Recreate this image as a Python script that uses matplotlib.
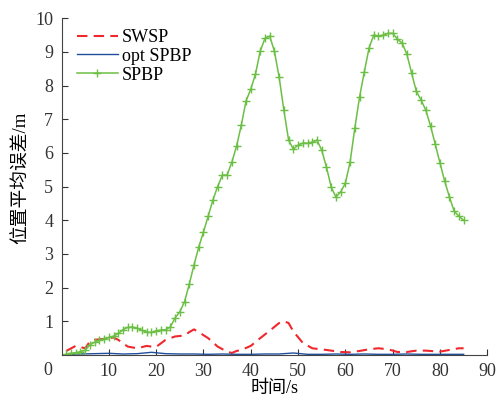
import numpy as np
import matplotlib
matplotlib.use('Agg')
import matplotlib.pyplot as plt

plt.rcParams['font.family'] = ['Liberation Serif', 'Noto Sans CJK SC']

# SPBP, one marker per second
t_spbp = np.arange(1, 86)
spbp = [0.03, 0.05, 0.07, 0.10, 0.14, 0.30, 0.38, 0.44, 0.48, 0.52,
        0.56, 0.64, 0.75, 0.82, 0.83, 0.80, 0.73, 0.68, 0.67, 0.72,
        0.74, 0.75, 0.83, 1.10, 1.28, 1.58, 2.10, 2.67, 3.20, 3.65,
        4.12, 4.60, 5.00, 5.34, 5.34, 5.72, 6.20, 6.82, 7.54, 7.89,
        8.34, 9.02, 9.40, 9.47, 9.02, 8.25, 7.27, 6.38, 6.11, 6.23,
        6.29, 6.29, 6.32, 6.38, 6.08, 5.58, 4.99, 4.69, 4.84, 5.10,
        5.73, 6.74, 7.66, 8.40, 9.11, 9.50, 9.47, 9.50, 9.55, 9.55,
        9.38, 9.26, 8.93, 8.37, 7.83, 7.57, 7.27, 6.80, 6.26, 5.70,
        5.16, 4.69, 4.27, 4.12, 4.00]

# SWSP
t_swsp = [1, 3, 5, 6, 7, 9, 11, 12, 14, 16, 18, 19, 20, 22, 24, 26, 27, 28, 29,
          31, 33, 35, 36, 37, 38, 40, 42, 44, 46, 47, 48, 49, 51, 53, 56, 59,
          61, 63, 65, 67, 69, 71, 73, 75, 77, 79, 80, 82, 84, 85]
swsp = [0.12, 0.27, 0.20, 0.40, 0.45, 0.48, 0.52, 0.45, 0.25, 0.20, 0.27, 0.25,
        0.24, 0.45, 0.55, 0.58, 0.68, 0.76, 0.68, 0.50, 0.25, 0.10, 0.06, 0.12,
        0.15, 0.27, 0.50, 0.72, 0.95, 1.00, 0.95, 0.70, 0.36, 0.20, 0.15, 0.09,
        0.08, 0.12, 0.17, 0.20, 0.17, 0.09, 0.09, 0.13, 0.13, 0.11, 0.10, 0.15,
        0.20, 0.20]

# opt SPBP
t_opt = [1, 4, 7, 10, 13, 16, 19, 22, 25, 28, 31, 34, 37, 40, 43, 46, 49, 52,
         55, 58, 61, 64, 67, 70, 73, 76, 79, 82, 85]
opt = [0.02, 0.03, 0.04, 0.05, 0.03, 0.04, 0.08, 0.04, 0.03, 0.03, 0.02, 0.03,
       0.02, 0.02, 0.03, 0.03, 0.06, 0.02, 0.02, 0.03, 0.02, 0.03, 0.02, 0.02,
       0.03, 0.02, 0.02, 0.02, 0.02]

fig = plt.figure(figsize=(4.98, 4.01), dpi=100)
ax = fig.add_axes([0.1235, 0.1147, 0.855, 0.84])

ax.plot(t_swsp, swsp, color='#f0282d', linestyle=(0, (5, 3)), linewidth=1.5, label='SWSP')
ax.plot(t_opt, opt, color='#1f4f9c', linewidth=1.0, label='opt SPBP')
ax.plot(t_spbp, spbp, color='#6cbf45', linewidth=1.1, marker='+', markersize=6,
        markeredgewidth=1.0, label='SPBP')

ax.set_xlim(0, 90)
ax.set_ylim(0, 10)
ax.set_xticks(range(10, 91, 10))
ax.set_yticks(range(1, 11))
ax.tick_params(direction='in', labelsize=13, length=4, pad=6, colors='#333333')
ax.spines['top'].set_visible(False)
ax.spines['right'].set_visible(False)
for s in ('left', 'bottom'):
    ax.spines[s].set_color('#444444')
ax.annotate('0', xy=(0, 0), xycoords='axes fraction', xytext=(-10, -11),
            textcoords='offset points', ha='center', va='center', fontsize=13, color='#333333')

ax.set_xlabel('时间/s', fontsize=13, labelpad=0)
ax.set_ylabel('位置平均误差/m', fontsize=13.5)
ax.yaxis.set_label_coords(-0.075, 0.525)

ax.legend(loc='upper left', frameon=False, fontsize=13, handlelength=2.3,
          handletextpad=0.2, labelspacing=0.1, borderaxespad=0.2,
          bbox_to_anchor=(0.01, 1.0))

fig.savefig('out.png', dpi=100)
